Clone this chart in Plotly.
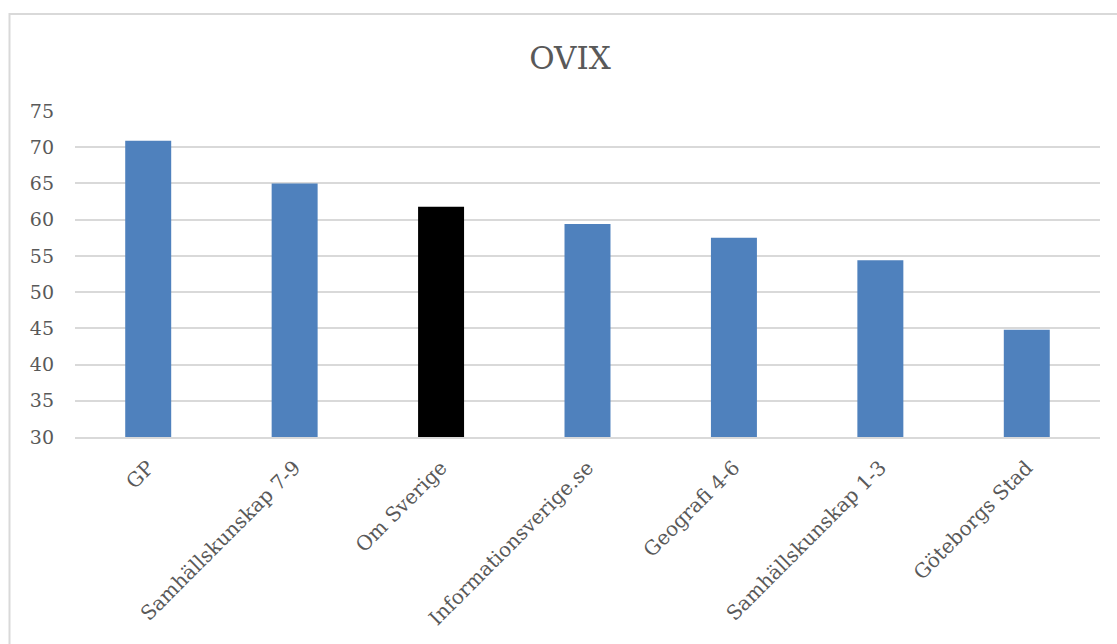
import plotly.graph_objects as go

categories = ["GP", "Samhällskunskap 7-9", "Om Sverige", "Informationsverige.se",
              "Geografi 4-6", "Samhällskunskap 1-3", "Göteborgs Stad"]
values = [70.9, 65.0, 61.8, 59.4, 57.5, 54.4, 44.8]
bar_colors = ["#4f81bd", "#4f81bd", "#000000", "#4f81bd", "#4f81bd", "#4f81bd", "#4f81bd"]
y_ticks = [30, 35, 40, 45, 50, 55, 60, 65, 70, 75]

W, H = 1117, 644
L, R, T, B = 75, 17, 111, 207

fig = go.Figure(go.Bar(
    x=categories, y=values, marker=dict(color=bar_colors, line=dict(width=0)),
    width=0.314,
))

pw = W - L - R
ph = H - T - B
def px_x(p):
    return (p - L) / pw
def px_y(p):
    return (H - B - p) / ph

font_family = "DejaVu Serif"
fig.update_layout(
    width=W, height=H,
    margin=dict(l=L, r=R, t=T, b=B, pad=0),
    paper_bgcolor="white", plot_bgcolor="white",
    showlegend=False,
    font=dict(family=font_family, color="#595959", size=19),
    title=dict(text="OVIX", x=570 / W, xref="container", xanchor="center",
               y=1 - 58 / H, yref="container", yanchor="middle",
               font=dict(family=font_family, size=31, color="#595959")),
    xaxis=dict(tickangle=-45, showgrid=False, showline=True, linecolor="#d9d9d9",
               linewidth=2, ticks="", tickfont=dict(size=20, color="#595959"),
               ticklabelstandoff=9),
    yaxis=dict(range=[30, 75], tickvals=y_ticks, showgrid=True, gridcolor="#d9d9d9",
               gridwidth=2, zeroline=False, showline=False, ticks="",
               tickfont=dict(size=19, color="#595959"), ticklabelstandoff=20),
    shapes=[dict(type="rect", xref="paper", yref="paper",
                 x0=px_x(9.5), x1=px_x(1160), y0=px_y(700), y1=px_y(14),
                 line=dict(color="#d9d9d9", width=2), fillcolor="rgba(0,0,0,0)",
                 layer="below")],
)

fig.write_html("out.html")
